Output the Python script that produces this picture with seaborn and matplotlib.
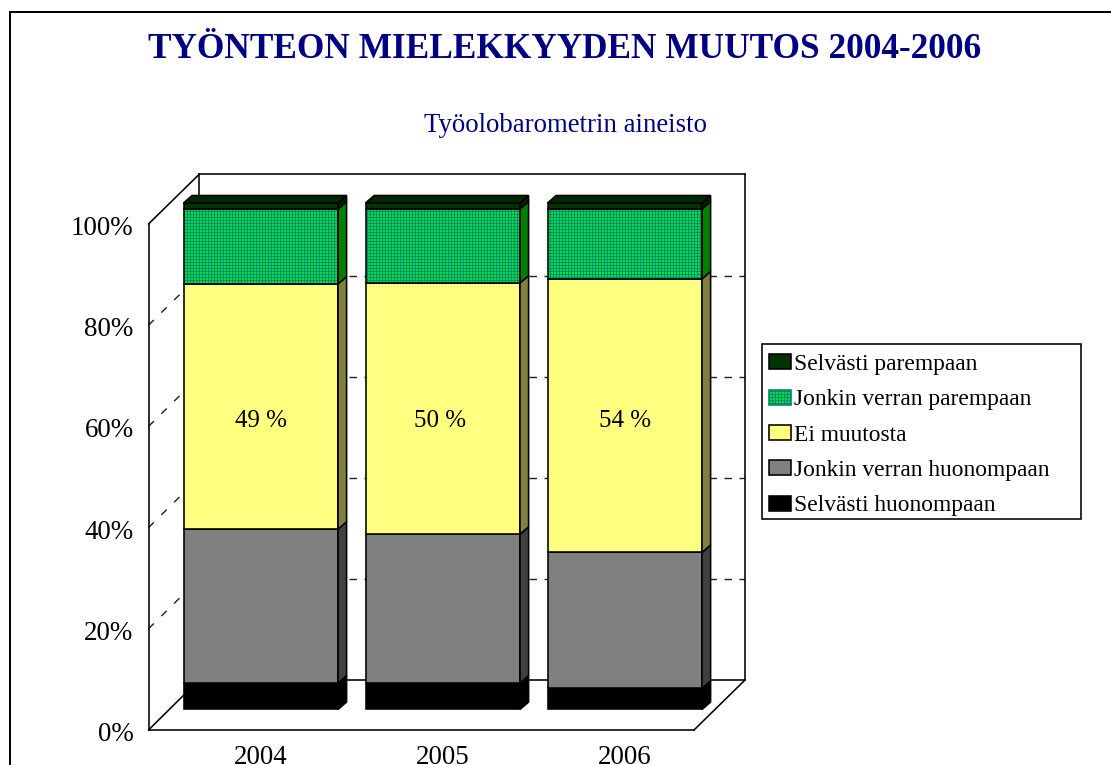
import matplotlib
matplotlib.use("Agg")
import matplotlib.pyplot as plt
import seaborn as sns
import numpy as np
from matplotlib.lines import Line2D
from matplotlib.patches import Patch, Rectangle
from matplotlib.transforms import ScaledTranslation

YEARS = ["2004", "2005", "2006"]
SELV_HUON = [5.2, 5.2, 4.2]
JONK_HUON = [30.4, 29.4, 26.8]
EI_MUUT = [48.4, 49.6, 54.0]
JONK_PAR = [14.8, 14.6, 13.8]
SELV_PAR = [1.2, 1.2, 1.2]
SERIES = ["Selvästi huonompaan", "Jonkin verran huonompaan", "Ei muutosta",
          "Jonkin verran parempaan", "Selvästi parempaan"]
VALUES = [SELV_HUON, JONK_HUON, EI_MUUT, JONK_PAR, SELV_PAR]
FACE = ["#000000", "#808080", "#FFFF80", "#00E040", "#003300"]
SIDE = ["#000000", "#404040", "#808040", "#008000", "#002000"]
LABELS = ["49 %", "50 %", "54 %"]
PCT_TICKS = [0, 20, 40, 60, 80, 100]

W, H, DPI = 1111, 765, 108
SERIF = "Liberation Serif"
NAVY = "#000080"
px = 72 / DPI
LW = 1.6 * px

sns.set_theme(style="white")
plt.rcParams["font.family"] = [SERIF, "DejaVu Serif"]
plt.rcParams["lines.scale_dashes"] = False
plt.rcParams["hatch.linewidth"] = 0.55

fig = plt.figure(figsize=((W + 0.01) / DPI, (H + 0.01) / DPI), dpi=DPI, facecolor="white")


def box(l, t, r, b):
    return [l / W, 1 - b / H, (r - l) / W, (b - t) / H]


def fx(x):
    return x / W


def fy(y):
    return 1 - y / H


def fline(x0, y0, x1, y1, **kw):
    kw.setdefault("color", "black")
    kw.setdefault("lw", LW)
    fig.add_artist(Line2D([fx(x0), fx(x1)], [fy(y0), fy(y1)], transform=fig.transFigure, **kw))


# geometry in pixels
BAR_X0, BAR_STEP = 260.75, 182.0
BAR_W = 154.5 / BAR_STEP
BAR_B, BAR_T = 709.5, 203.0
FL, FR, FT, FB = 148.5, 694.0, 224.0, 730.0     # front plane
BL, BR, BT, BB = 199.0, 745.0, 174.5, 680.0     # back wall
DX, DY = 8.6, 7.5                                # bar depth


def cat_lim(l, r):
    return (l - BAR_X0) / BAR_STEP, (r - BAR_X0) / BAR_STEP


# page border (only left and top fall inside the crop)
fline(9.5, H, 9.5, 12, lw=2 * px, zorder=0.5)
fline(9.5, 12, W, 12, lw=2 * px, zorder=0.5)

# back wall
back = fig.add_axes(box(BL, BT, BR, BB), zorder=1)
back.set_xlim(0, 1)
back.set_ylim(0, 100)
back.set_xticks([])
back.set_yticks(PCT_TICKS[1:-1])
back.tick_params(left=False, labelleft=False)
back.grid(axis="y", color="#202020", lw=1.4 * px, linestyle=(0, (5, 5)))
back.set_axisbelow(True)
for s in back.spines.values():
    s.set_visible(True)
    s.set_color("black")
    s.set_linewidth(LW)

# left wall + floor diagonals
for t in PCT_TICKS[1:-1]:
    f = t / 100
    fline(FL, FB + (FT - FB) * f, BL, BB + (BT - BB) * f, color="#202020", lw=1.4 * px,
          linestyle=(0, (5, 7)), zorder=1.5)
fline(FL, FT, BL, BT, zorder=1.5)
fline(FL, FB, BL, BB, zorder=1.5)
fline(FR, FB, BR, BB, zorder=1.5)

# front plane: value + category axis
front = fig.add_axes(box(FL, FT, FR, FB), zorder=2)
front.patch.set_visible(False)
front.set_xlim(*cat_lim(FL, FR))
front.set_ylim(0, 100)
front.set_xticks(range(len(YEARS)), YEARS)
front.set_yticks(PCT_TICKS, [f"{t}%" for t in PCT_TICKS])
front.tick_params(axis="both", length=0, labelsize=27 * px, colors="black")
front.tick_params(axis="y", pad=15 * px)
front.tick_params(axis="x", pad=15 * px)
shift = ScaledTranslation(0, -1.5 / DPI, fig.dpi_scale_trans)
for lab in front.get_yticklabels():
    lab.set_transform(lab.get_transform() + shift)
for name, s in front.spines.items():
    s.set_visible(name in ("left", "bottom"))
    s.set_color("black")
    s.set_linewidth(LW)

# bars
ax = fig.add_axes([0, 0, 1, 1], zorder=3)
ax.patch.set_visible(False)
cum = np.zeros(len(YEARS))
x = np.arange(len(YEARS))
dxd, dyd = DX / BAR_STEP, DY / ((BAR_B - BAR_T) / 100)
for i, vals in enumerate(VALUES):
    vals = np.array(vals, dtype=float)
    n = len(ax.patches)
    hatched = SERIES[i] == "Jonkin verran parempaan"
    sns.barplot(x=YEARS, y=vals, bottom=cum, color=FACE[i], saturation=1, width=BAR_W,
                ax=ax, edgecolor="#008070" if hatched else "black",
                linewidth=0 if hatched else LW,
                hatch="++++++" if hatched else None, zorder=3)
    if hatched:
        sns.barplot(x=YEARS, y=vals, bottom=cum, color=FACE[i], saturation=1, width=BAR_W,
                    ax=ax, edgecolor="black", linewidth=LW, zorder=3.1)
        for p in ax.patches[n + len(YEARS):]:
            p.set_facecolor("none")
    xr = x + BAR_W / 2
    for j in range(len(YEARS)):
        ax.fill([xr[j], xr[j] + dxd, xr[j] + dxd, xr[j]],
                [cum[j], cum[j] + dyd, cum[j] + vals[j] + dyd, cum[j] + vals[j]],
                facecolor=SIDE[i], edgecolor="black", lw=LW, zorder=3)
    cum = cum + vals
xl = x - BAR_W / 2
xr = x + BAR_W / 2
for j in range(len(YEARS)):
    ax.fill([xl[j], xr[j], xr[j] + dxd, xl[j] + dxd],
            [cum[j], cum[j], cum[j] + dyd, cum[j] + dyd],
            facecolor="#002800", edgecolor="black", lw=LW, zorder=3)
ax.set_xlim(*cat_lim(0, W))
scale = (BAR_B - BAR_T) / 100
ax.set_ylim(-(H - BAR_B) / scale, BAR_B / scale)
ax.set_axis_off()

LABEL_Y = (BAR_B - 421) / scale
for j, lab in enumerate(LABELS):
    ax.text(x[j] - (0.015 if j == 1 else 0), LABEL_Y, lab, ha="center", va="center",
            fontsize=25 * px, color="black", zorder=5)

# titles
fig.text(fx(565), fy(49.5), "TYÖNTEON MIELEKKYYDEN MUUTOS 2004-2006", ha="center", va="center",
         fontsize=35.3 * px, fontweight="bold", color=NAVY)
fig.text(fx(565), fy(125), "Työolobarometrin aineisto", ha="center", va="center",
         fontsize=26.75 * px, color=NAVY)

# legend
LL, LT, LR, LB = 762.3, 344.3, 1080.7, 519.0
fig.add_artist(Rectangle((fx(LL), fy(LB)), (LR - LL) / W, (LB - LT) / H,
                         transform=fig.transFigure, facecolor="white", edgecolor="black",
                         lw=LW, zorder=5.5))
handles = []
for i in reversed(range(len(SERIES))):
    hatched = SERIES[i] == "Jonkin verran parempaan"
    handles.append(Patch(facecolor=FACE[i], edgecolor="#008070" if hatched else "black",
                         lw=LW, hatch="++++++" if hatched else None, label=SERIES[i]))
leg = fig.legend(handles=handles, loc="upper left",
                 bbox_to_anchor=(fx(LL - 3), fy(LB), (LR - LL) / W, (LB - LT) / H),
                 mode="expand", ncols=1, fontsize=23.5 * px, frameon=False, borderaxespad=0,
                 borderpad=0.418, labelspacing=0.609, handlelength=0.936, handleheight=0.6,
                 handletextpad=0.12, labelcolor="black")
leg.set_zorder(6)

fig.savefig("out.png", dpi=DPI, facecolor="white")
